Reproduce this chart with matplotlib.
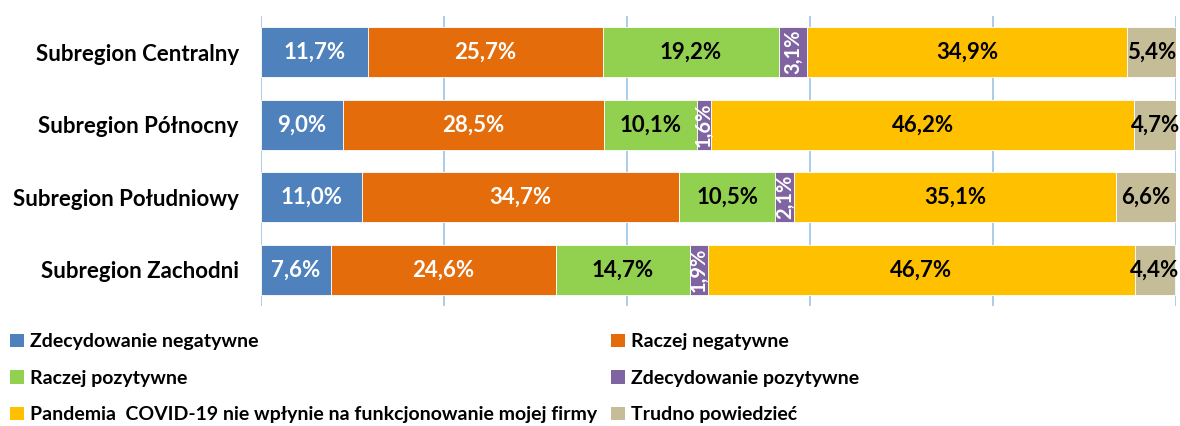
import numpy as np
import matplotlib.pyplot as plt
from matplotlib.patches import Patch

plt.rcParams['font.family'] = ['Lato', 'DejaVu Sans']
plt.rcParams['font.weight'] = 'bold'

regions = ["Subregion Centralny", "Subregion Północny",
           "Subregion Południowy", "Subregion Zachodni"]

series = ["Zdecydowanie negatywne", "Raczej negatywne", "Raczej pozytywne",
          "Zdecydowanie pozytywne",
          "Pandemia  COVID-19 nie wpłynie na funkcjonowanie mojej firmy",
          "Trudno powiedzieć"]

zdec_neg = [11.7, 9.0, 11.0, 7.6]
raczej_neg = [25.7, 28.5, 34.7, 24.6]
raczej_poz = [19.2, 10.1, 10.5, 14.7]
zdec_poz = [3.1, 1.6, 2.1, 1.9]
bez_wplywu = [34.9, 46.2, 35.1, 46.7]
trudno = [5.4, 4.7, 6.6, 4.4]

colors = ["#4F81BD", "#E46C0A", "#92D050", "#8064A2", "#FFC000", "#C4BD97"]
txt_colors = ["white", "white", "black", "white", "black", "black"]

data = [zdec_neg, raczej_neg, raczej_poz, zdec_poz, bez_wplywu, trudno]

fig = plt.figure(figsize=(11.8, 4.26), dpi=100)
ax = fig.add_axes([261/1180, 1 - 306/426, (1176-261)/1180, 290/426])

y = np.arange(len(regions))
left = np.zeros(len(regions))
for vals, c, tc in zip(data, colors, txt_colors):
    vals = np.array(vals)
    ax.barh(y, vals, left=left, height=0.69, color=c, edgecolor='white',
            linewidth=0.6, zorder=3)
    for yi, v, l in zip(y, vals, left):
        lab = f"{v:.1f}%".replace(".", ",")
        if v < 4:
            ax.text(l + v/2, yi, lab, rotation=90, ha='center', va='center',
                    color=tc, fontsize=14.5, fontweight='bold', zorder=4)
        else:
            ax.text(l + v/2, yi, lab, ha='center', va='center',
                    color=tc, fontsize=16, fontweight='bold', zorder=4)
    left += vals

ax.set_xlim(0, 100)
ax.set_ylim(3.5, -0.5)
ax.set_xticks(np.arange(0, 101, 20))
ax.set_xticklabels([])
ax.tick_params(axis='x', length=0)
ax.tick_params(axis='y', length=0, pad=16)
ax.set_yticks(y)
ax.set_yticklabels(regions, fontsize=16, fontweight='bold')
ax.grid(axis='x', color='#9DC3E6', linewidth=1.2, zorder=0)
for s in ax.spines.values():
    s.set_visible(False)

# legend fills row by row in the reference
order = [0, 2, 4, 1, 3, 5]
handles = [Patch(facecolor=colors[i], edgecolor='none') for i in order]
labels = [series[i] for i in order]
fig.legend(handles, labels, ncol=2, loc='upper left',
           bbox_to_anchor=(0.002, 0.236), frameon=False,
           handlelength=0.7, handleheight=0.7,
           handletextpad=0.3, columnspacing=0.75, labelspacing=1.0,
           borderaxespad=0, prop={'weight': 'bold', 'size': 14})

fig.savefig("out.png", dpi=100)
